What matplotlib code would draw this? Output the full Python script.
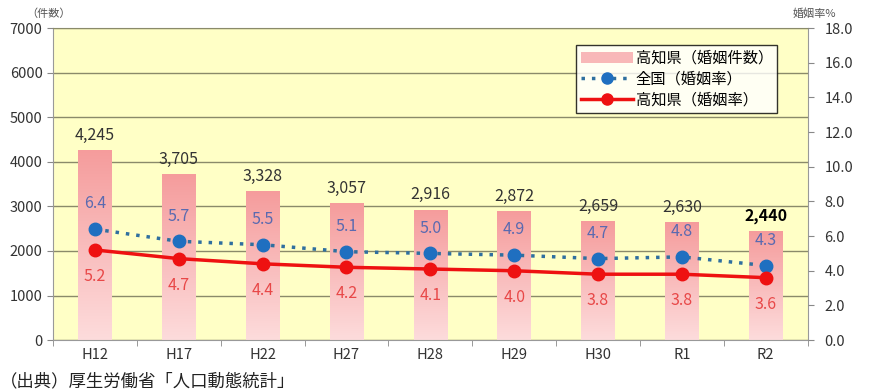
import numpy as np
import matplotlib.pyplot as plt
from matplotlib.colors import LinearSegmentedColormap
from matplotlib.lines import Line2D
from matplotlib.patches import Patch

plt.rcParams['font.family'] = ['Noto Sans CJK JP', 'DejaVu Sans']

# data
years = ['H12', 'H17', 'H22', 'H27', 'H28', 'H29', 'H30', 'R1', 'R2']
kochi_count = [4245, 3705, 3328, 3057, 2916, 2872, 2659, 2630, 2440]
japan_rate = [6.4, 5.7, 5.5, 5.1, 5.0, 4.9, 4.7, 4.8, 4.3]
kochi_rate = [5.2, 4.7, 4.4, 4.2, 4.1, 4.0, 3.8, 3.8, 3.6]

fig = plt.figure(figsize=(8.76, 3.90), dpi=100)
ax = fig.add_axes([0.0605, 0.128, 0.8615, 0.80])
ax.set_facecolor('#ffffc6')

x = np.arange(len(years))
bw = 0.4
# gradient bars
cmap = LinearSegmentedColormap.from_list('pk', ['#fddcdc', '#f59c9c'])
grad = np.linspace(0, 1, 256).reshape(-1, 1)
bars = ax.bar(x, kochi_count, width=bw, color='none', zorder=2)
for b in bars:
    x0 = b.get_x()
    h = b.get_height()
    ax.imshow(grad, cmap=cmap, aspect='auto', origin='lower',
              extent=[x0, x0 + bw, 0, h], zorder=2)

ax.set_xlim(-0.5, len(years) - 0.5)
ax.set_ylim(0, 7000)
ax.set_yticks(range(0, 7001, 1000))
ax.yaxis.grid(True, color='#8a8a6a', linewidth=1.0, zorder=1)
ax.set_axisbelow(True)
ax.set_xticks(x)
ax.set_xticklabels(years, fontsize=10.5, color='#333333')
ax.tick_params(axis='x', length=0, pad=6)
ax.set_xticks(np.arange(-0.5, len(years), 1), minor=True)
ax.tick_params(axis='x', which='minor', length=4, direction='out', color='#888888')
ax.tick_params(axis='y', length=4, direction='out', color='#888888', labelsize=10.5, labelcolor='#333333')
for s in ['left', 'bottom']:
    ax.spines[s].set_color('#999999')
ax.spines['top'].set_color('#8a8a6a')
ax.spines['right'].set_color('#999999')

for i, v in enumerate(kochi_count):
    last = i == len(kochi_count) - 1
    ax.annotate(f'{v:,}', (i, v), xytext=(0, 5), textcoords='offset points',
                ha='center', va='bottom', fontsize=11.5,
                color='black' if last else '#333333',
                fontweight='bold' if last else 'normal', zorder=5)

ax2 = ax.twinx()
ax2.set_ylim(0, 18)
ax2.set_yticks(np.arange(0, 18.1, 2))
ax2.set_yticklabels([f'{t:.1f}' for t in np.arange(0, 18.1, 2)])
ax2.tick_params(axis='y', length=4, direction='out', color='#888888', labelsize=10.5, labelcolor='#333333', pad=8)
for s in ax2.spines.values():
    s.set_visible(False)

ax2.plot(x, japan_rate, linestyle=(0, (1, 2)), linewidth=2.5, color='#2f6f9f',
         marker='o', markersize=9, markerfacecolor='#1f6fc0', markeredgecolor='#1f6fc0', zorder=4)
ax2.plot(x, kochi_rate, linestyle='-', linewidth=2.5, color='#ee1111',
         marker='o', markersize=9, markerfacecolor='#ee1111', markeredgecolor='#ee1111', zorder=4)
for i in range(len(years)):
    ax2.annotate(f'{japan_rate[i]:.1f}', (i, japan_rate[i]), xytext=(0, 12), textcoords='offset points',
                 ha='center', va='bottom', fontsize=11.5, color='#5a6ab0')
    ax2.annotate(f'{kochi_rate[i]:.1f}', (i, kochi_rate[i]), xytext=(0, -13), textcoords='offset points',
                 ha='center', va='top', fontsize=11.5, color='#e84848')

handles = [Patch(facecolor='#f8b8b8', edgecolor='none'),
           Line2D([], [], linestyle=(0, (1, 2)), linewidth=2.5, color='#2f6f9f',
                  marker='o', markersize=8, markerfacecolor='#1f6fc0', markeredgecolor='#1f6fc0'),
           Line2D([], [], linestyle='-', linewidth=2.5, color='#ee1111',
                  marker='o', markersize=8, markerfacecolor='#ee1111', markeredgecolor='#ee1111')]
labels = ['高知県（婚姻件数）', '全国（婚姻率）', '高知県（婚姻率）']
leg = ax2.legend(handles, labels, loc='upper right', bbox_to_anchor=(0.96, 0.945),
                 fontsize=11, frameon=True, fancybox=False, handlelength=3.4,
                 handletextpad=0.2, borderpad=0.3, labelspacing=0.25, borderaxespad=0)
leg.get_frame().set_edgecolor('black')
leg.get_frame().set_linewidth(1.0)
leg.set_zorder(10)

fig.text(0.03, 0.965, '（件数）', fontsize=8, color='#555555', ha='left', va='center')
fig.text(0.93, 0.965, '婚姻率%', fontsize=8, color='#555555', ha='center', va='center')
fig.text(0.0, 0.022, '（出典）厚生労働省「人口動態統計」', fontsize=12.5, color='#222222', ha='left', va='center')

fig.savefig('out.png', dpi=100)
